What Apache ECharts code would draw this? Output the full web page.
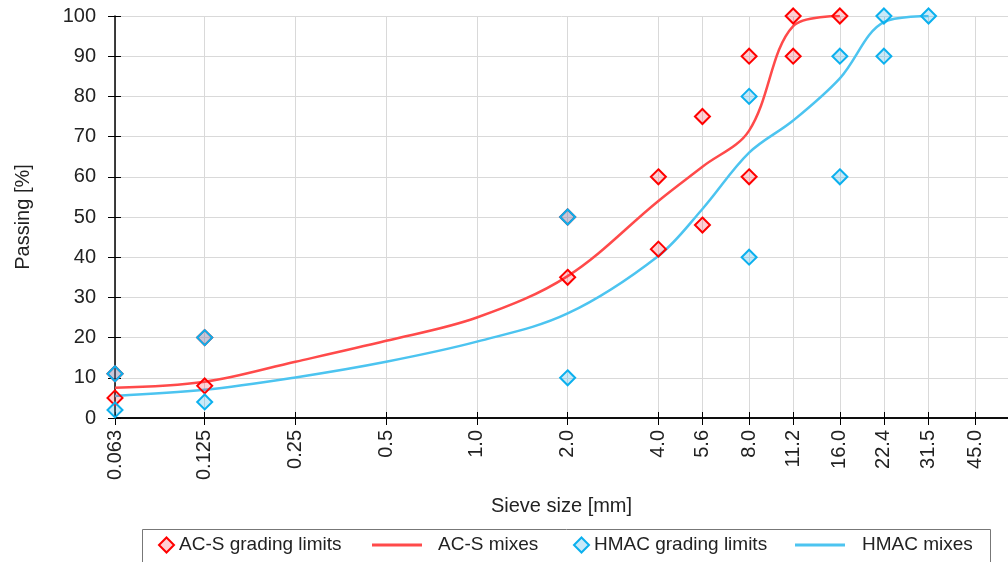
<!DOCTYPE html>
<html>
<head>
<meta charset="utf-8">
<script src="https://cdn.jsdelivr.net/npm/echarts@6/dist/echarts.min.js"></script>
<style>html,body{margin:0;padding:0;background:#fff}#c{width:1008px;height:562px}</style>
</head>
<body>
<div id="c"></div>
<script>
// Tick sieve sizes and their labels
const tickSizes = [0.063, 0.125, 0.25, 0.5, 1.0, 2.0, 4.0, 5.6, 8.0, 11.2, 16.0, 22.4, 31.5, 45.0];
const tickLabels = ['0.063', '0.125', '0.25', '0.5', '1.0', '2.0', '4.0', '5.6', '8.0', '11.2', '16.0', '22.4', '31.5', '45.0'];

// AC-S grading limits (sieve size, passing %)
const acsLimitSizes  = [0.063, 0.063, 0.125, 0.125, 2.0, 2.0, 4.0, 4.0, 5.6, 5.6, 8.0, 8.0, 11.2, 11.2, 16.0];
const acsLimitValues = [5, 11, 8, 20, 35, 50, 42, 60, 48, 75, 60, 90, 90, 100, 100];

// HMAC grading limits
const hmacLimitSizes  = [0.063, 0.063, 0.125, 0.125, 2.0, 2.0, 8.0, 8.0, 16.0, 16.0, 22.4, 22.4, 31.5];
const hmacLimitValues = [2, 11, 4, 20, 10, 50, 40, 80, 60, 90, 90, 100, 100];

// AC-S mixes curve
const acsMixSizes  = [0.063, 0.125, 0.25, 0.5, 1.0, 2.0, 4.0, 5.6, 8.0, 11.2, 16.0];
const acsMixValues = [7.5, 9, 14, 19.2, 25, 35.3, 54, 62.5, 71.5, 97.5, 100];

// HMAC mixes curve
const hmacMixSizes  = [0.063, 0.125, 0.25, 0.5, 1.0, 2.0, 4.0, 5.6, 8.0, 11.2, 16.0, 22.4, 31.5];
const hmacMixValues = [5.5, 7, 10.1, 14, 19, 26, 40.3, 52, 66, 74, 84.5, 98.5, 100];

const zip = (a, b) => a.map((v, i) => [v, b[i]]);

const FONT = 'Liberation Sans, Arial, sans-serif';
const chart = echarts.init(document.getElementById('c'), null, {renderer: 'canvas'});

function labelFor(v) {
  let best = 0, bd = Infinity;
  tickSizes.forEach((s, i) => { const d = Math.abs(Math.log(s) - Math.log(v)); if (d < bd) { bd = d; best = i; } });
  return tickLabels[best];
}

const legendBase = {
  orient: 'horizontal', top: 535, itemHeight: 16, padding: 0,
  textStyle: {fontFamily: FONT, fontSize: 19, color: '#222', lineHeight: 20}
};

chart.setOption({
  animation: false,
  backgroundColor: '#fff',
  grid: {left: 115, right: 0, top: 16, bottom: 144, containLabel: false},
  xAxis: [{
    type: 'log', logBase: 2, min: 0.063, max: 57.8,
    position: 'bottom',
    name: 'Sieve size [mm]', nameLocation: 'middle', nameGap: 78,
    nameTextStyle: {fontFamily: FONT, fontSize: 20, color: '#222'},
    axisLine: {show: true, onZero: false, lineStyle: {color: '#000', width: 1.5}},
    axisTick: {show: true, length: 7, customValues: tickSizes, lineStyle: {color: '#000', width: 1}},
    axisLabel: {customValues: tickSizes, rotate: 90, margin: 12, fontFamily: FONT, fontSize: 20, color: '#222',
      formatter: (v) => labelFor(v)},
    splitLine: {show: true, lineStyle: {color: '#d9d9d9', width: 1}},
    minorTick: {show: false}, minorSplitLine: {show: false}
  }, {
    type: 'value', position: 'top', min: 0, max: 1,
    axisLine: {show: true, lineStyle: {color: '#000', width: 1.5}},
    axisTick: {show: false}, axisLabel: {show: false}, splitLine: {show: false}
  }, {
    type: 'log', logBase: 2, min: 0.063, max: 57.8, position: 'bottom', offset: 0,
    axisLine: {show: true, onZero: false, lineStyle: {color: 'rgba(0,0,0,0)', width: 1}},
    axisTick: {show: true, inside: true, length: 6, customValues: tickSizes, lineStyle: {color: '#000', width: 1}},
    axisLabel: {show: false, customValues: tickSizes}, splitLine: {show: false}
  }],
  yAxis: [{
    type: 'value', min: 0, max: 100, interval: 10,
    name: 'Passing [%]', nameLocation: 'middle', nameGap: 82, nameRotate: 90,
    nameTextStyle: {fontFamily: FONT, fontSize: 20, color: '#222'},
    axisLine: {show: true, lineStyle: {color: '#000', width: 1.5}},
    axisTick: {show: true, length: 7, lineStyle: {color: '#000', width: 1}},
    axisLabel: {margin: 19, fontFamily: FONT, fontSize: 20, color: '#222'},
    splitLine: {show: true, lineStyle: {color: '#d9d9d9', width: 1}}
  }, {
    type: 'value', min: 0, max: 100, interval: 10, position: 'left', offset: 0,
    axisLine: {show: true, onZero: false, lineStyle: {color: 'rgba(0,0,0,0)', width: 1}},
    axisTick: {show: true, inside: true, length: 6, lineStyle: {color: '#000', width: 1}},
    axisLabel: {show: false}, splitLine: {show: false}
  }],
  legend: [
    Object.assign({}, legendBase, {left: 158, itemWidth: 15, itemHeight: 15, data: ['AC-S grading limits']}),
    Object.assign({}, legendBase, {left: 372, itemWidth: 50, itemHeight: 3,
      data: [{name: 'AC-S mixes', icon: 'rect'}],
      textStyle: Object.assign({}, legendBase.textStyle, {padding: [0, 0, 0, 11]})}),
    Object.assign({}, legendBase, {left: 573, itemWidth: 15, itemHeight: 15, data: ['HMAC grading limits']}),
    Object.assign({}, legendBase, {left: 795, itemWidth: 50, itemHeight: 3,
      data: [{name: 'HMAC mixes', icon: 'rect'}],
      textStyle: Object.assign({}, legendBase.textStyle, {padding: [0, 0, 0, 12]})})
  ],
  graphic: [{
    type: 'rect', left: 140, top: 527, silent: true, z: -1,
    shape: {width: 848, height: 50},
    style: {fill: 'none', stroke: '#777', lineWidth: 1}
  }],
  series: [{
    name: 'AC-S grading limits', type: 'scatter', symbol: 'diamond', symbolSize: 15,
    data: zip(acsLimitSizes, acsLimitValues),
    itemStyle: {color: 'rgba(255,40,60,0.22)', borderColor: '#ff0000', borderWidth: 2, opacity: 1},
    z: 3
  }, {
    name: 'AC-S mixes', type: 'line', smooth: 0.35, symbol: 'none',
    data: zip(acsMixSizes, acsMixValues),
    lineStyle: {color: '#ff4a4a', width: 2.5}, itemStyle: {color: '#ff4a4a'},
    z: 2
  }, {
    name: 'HMAC grading limits', type: 'scatter', symbol: 'diamond', symbolSize: 15,
    data: zip(hmacLimitSizes, hmacLimitValues),
    itemStyle: {color: 'rgba(40,170,230,0.25)', borderColor: '#0bb0ee', borderWidth: 2, opacity: 1},
    z: 4
  }, {
    name: 'HMAC mixes', type: 'line', smooth: 0.35, symbol: 'none',
    data: zip(hmacMixSizes, hmacMixValues),
    lineStyle: {color: '#4cc4f0', width: 2.5}, itemStyle: {color: '#4cc4f0'},
    z: 2
  }]
});
</script>
</body>
</html>
